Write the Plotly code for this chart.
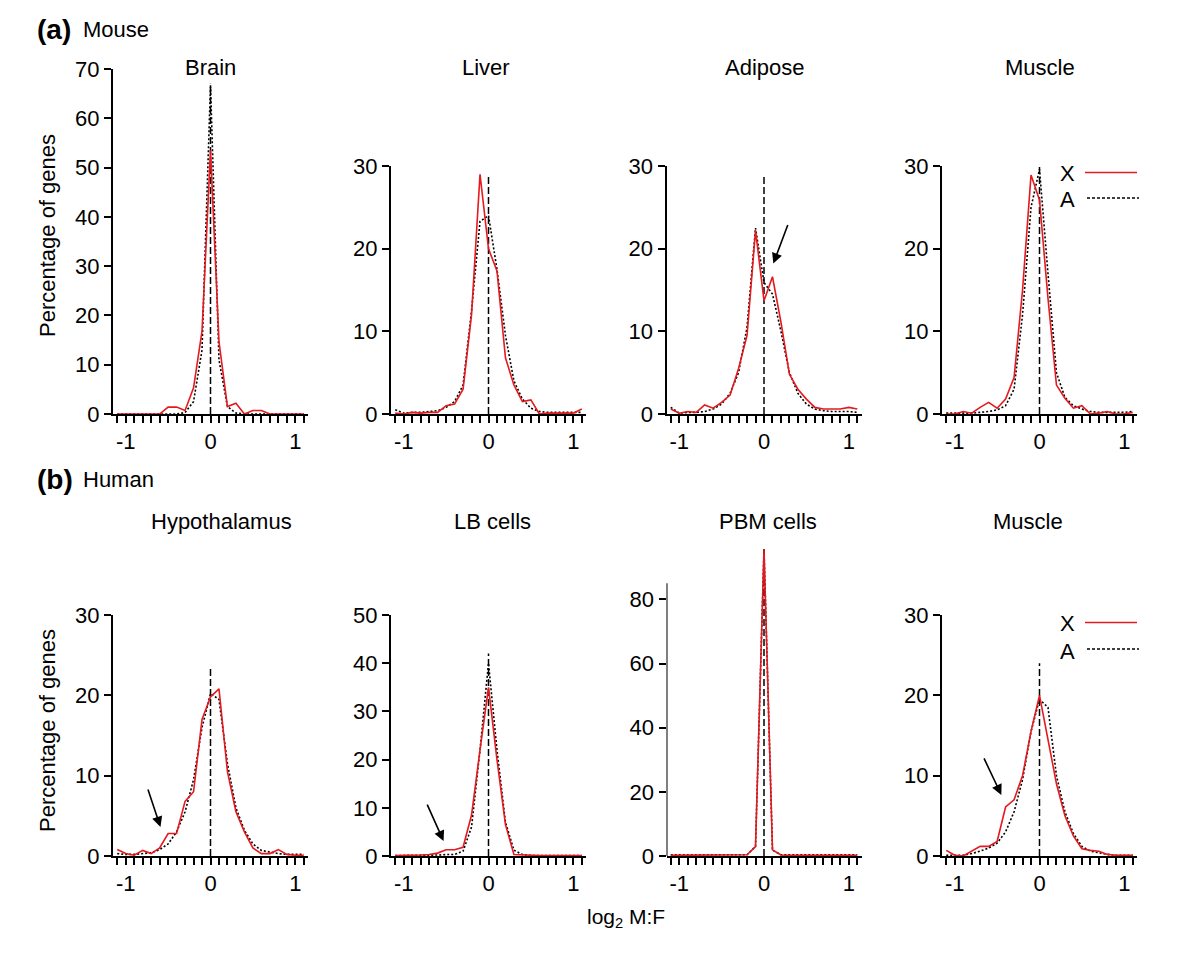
import plotly.graph_objects as go

# ---------------- data ----------------
x_vals = [-1.1, -1.0, -0.9, -0.8, -0.7, -0.6, -0.5, -0.4, -0.3, -0.2, -0.1, 0.0,
          0.1, 0.2, 0.3, 0.4, 0.5, 0.6, 0.7, 0.8, 0.9, 1.0, 1.1]
x_tick_text = ["", "-1", "", "", "", "", "", "", "", "", "", "0",
               "", "", "", "", "", "", "", "", "", "1", ""]

panel_titles = ["Brain", "Liver", "Adipose", "Muscle",
                "Hypothalamus", "LB cells", "PBM cells", "Muscle"]

# Mouse
brain_X = [0, 0, 0, 0, 0, 0, 1.4, 1.4, 0.7, 5.3, 16.8, 53.5, 14.7, 1.5, 2.2, 0, 0.7, 0.7, 0, 0, 0, 0, 0]
brain_A = [0, 0, 0, 0, 0, 0, 0, 0, 0.3, 2.5, 13.0, 66.8, 11.0, 1.5, 0.2, 0, 0, 0, 0, 0, 0, 0, 0]
liver_X = [0.1, 0.0, 0.2, 0.1, 0.2, 0.2, 1.0, 1.2, 3.0, 12.0, 29.0, 20.0, 17.3, 6.8, 3.5, 1.5, 1.7, 0.0, 0.1, 0.1, 0.1, 0.1, 0.6]
liver_A = [0.5, 0.1, 0.2, 0.2, 0.3, 0.4, 0.8, 1.5, 3.5, 12.5, 23.3, 24.0, 17.5, 9.5, 4.0, 1.8, 0.7, 0.3, 0.2, 0.2, 0.2, 0.2, 0.2]
adipose_X = [0.6, 0.1, 0.3, 0.2, 1.1, 0.7, 1.4, 2.3, 5.5, 9.5, 22.2, 13.7, 16.6, 11.1, 4.8, 3.0, 1.8, 0.8, 0.6, 0.6, 0.6, 0.8, 0.6]
adipose_A = [0.8, 0.1, 0.2, 0.2, 0.3, 0.6, 1.2, 2.5, 5.0, 10.5, 22.5, 15.9, 14.5, 10.0, 5.0, 2.5, 1.2, 0.6, 0.4, 0.3, 0.3, 0.3, 0.2]
muscle_m_X = [0, 0, 0.3, 0.1, 0.8, 1.4, 0.7, 1.8, 4.4, 15.0, 28.9, 25.9, 14.0, 3.5, 1.9, 0.7, 1.0, 0, 0.1, 0.3, 0, 0, 0.2]
muscle_m_A = [0.1, 0.1, 0.1, 0.1, 0.2, 0.3, 0.5, 1.0, 3.0, 12.0, 25.0, 29.6, 17.0, 5.0, 2.0, 1.0, 0.6, 0.3, 0.2, 0.2, 0.2, 0.2, 0.3]
# Human
hypo_X = [0.8, 0.3, 0.1, 0.7, 0.3, 1.0, 2.8, 2.8, 6.8, 8.0, 17.0, 19.8, 20.8, 10.5, 5.5, 3.0, 1.0, 0.3, 0.3, 0.8, 0.2, 0.1, 0.1]
hypo_A = [0.3, 0.2, 0.2, 0.3, 0.4, 0.8, 1.5, 3.0, 5.5, 9.5, 16.0, 20.2, 19.5, 11.5, 6.0, 3.2, 1.5, 0.7, 0.5, 0.3, 0.2, 0.2, 0.2]
lb_X = [0.1, 0.1, 0.1, 0.2, 0.3, 0.6, 1.3, 1.3, 1.8, 8.5, 22.0, 35.0, 20.0, 6.5, 0.3, 0.2, 0.1, 0.1, 0.1, 0.1, 0.2, 0.1, 0.1]
lb_A = [0.1, 0.1, 0.1, 0.1, 0.1, 0.2, 0.3, 0.3, 1.0, 6.0, 22.0, 40.0, 22.0, 7.0, 1.2, 0.3, 0.1, 0.1, 0.1, 0.1, 0.1, 0.1, 0.1]
pbm_X = [0.2, 0.2, 0.2, 0.2, 0.2, 0.2, 0.2, 0.2, 0.2, 0.4, 2.9, 95.7, 1.9, 0.3, 0.2, 0.2, 0.2, 0.2, 0.2, 0.2, 0.2, 0.2, 0.2]
pbm_A = [0.4, 0.4, 0.4, 0.4, 0.4, 0.4, 0.4, 0.4, 0.4, 0.4, 3.0, 95.7, 1.8, 0.4, 0.4, 0.4, 0.4, 0.4, 0.4, 0.4, 0.4, 0.4, 0.4]
muscle_h_X = [0.7, 0.1, 0.0, 0.6, 1.2, 1.2, 1.8, 6.1, 7.0, 10.0, 15.5, 20.0, 14.5, 9.0, 5.0, 2.5, 0.9, 0.7, 0.6, 0.2, 0.1, 0.1, 0.1]
muscle_h_A = [0.1, 0.1, 0.1, 0.3, 0.6, 1.0, 1.6, 3.0, 5.5, 9.5, 15.5, 19.5, 18.5, 10.0, 5.5, 2.8, 1.2, 0.6, 0.4, 0.2, 0.1, 0.1, 0.1]

series_X = [brain_X, liver_X, adipose_X, muscle_m_X, hypo_X, lb_X, pbm_X, muscle_h_X]
series_A = [brain_A, liver_A, adipose_A, muscle_m_A, hypo_A, lb_A, pbm_A, muscle_h_A]

zero_line_top = [67, 29, 29, 30, 23.3, 42, 96, 24]
y_ranges = [[0, 70], [0, 30], [0, 30], [0, 30], [0, 30], [0, 50], [0, 97], [0, 30]]
y_tick_vals = [[0, 10, 20, 30, 40, 50, 60, 70], [0, 10, 20, 30], [0, 10, 20, 30], [0, 10, 20, 30],
               [0, 10, 20, 30], [0, 10, 20, 30, 40, 50], [0, 20, 40, 60, 80], [0, 10, 20, 30]]
pbm_axis_top = 85

# ---------------- layout geometry (pixels in the final screenshot) ----------------
W, H = 1200, 957
OFF = 8  # page body margin
col_px = [(113, 308), (391, 586), (666.5, 861.5), (942, 1137)]
row_px = [(69, 414), (166, 414), (166, 414), (166, 414),
          (615, 856), (615, 856), (544.8, 856), (615, 856)]


def fx(px):
    return (px - OFF) / W


def fy(py):
    return 1 - (py - OFF) / H


RED = "#e5191e"
FONT = "Liberation Sans, Arial, Helvetica, sans-serif"
TS = 22

fig = go.Figure()
layout = dict(width=W, height=H,
              margin=dict(l=0, r=0, t=0, b=0, pad=0, autoexpand=False),
              paper_bgcolor="white", plot_bgcolor="white", showlegend=False,
              font=dict(family=FONT, color="black", size=TS))

for i in range(8):
    n = i + 1
    xa = "x" if n == 1 else f"x{n}"
    ya = "y" if n == 1 else f"y{n}"
    c0, c1 = col_px[i % 4]
    r0, r1 = row_px[i]
    layout["xaxis" if n == 1 else f"xaxis{n}"] = dict(
        domain=[fx(c0), fx(c1)], anchor=ya, range=[-1.15, 1.15], automargin=False,
        tickmode="array", tickvals=x_vals, ticktext=x_tick_text,
        ticks="outside", ticklen=7, tickwidth=1.5, tickcolor="black",
        showline=True, linecolor="black", linewidth=2,
        showgrid=False, zeroline=False, tickfont=dict(size=TS, family=FONT))
    layout["yaxis" if n == 1 else f"yaxis{n}"] = dict(
        domain=[fy(r1), fy(r0)], anchor=xa, range=y_ranges[i], automargin=False,
        tickmode="array", tickvals=y_tick_vals[i],
        ticks="outside", ticklen=7, tickwidth=1.5, tickcolor="black",
        showline=(i != 6), linecolor="black", linewidth=2,
        showgrid=False, zeroline=False, tickfont=dict(size=TS, family=FONT))

    fig.add_trace(go.Scatter(x=[0, 0], y=[0, zero_line_top[i]], mode="lines",
                             line=dict(color="black", width=1.5, dash="7px,3px"),
                             xaxis=xa, yaxis=ya, hoverinfo="skip"))
    fig.add_trace(go.Scatter(x=x_vals, y=series_A[i], mode="lines", name="A",
                             line=dict(color="black", width=1.6, dash="2px,2px"),
                             xaxis=xa, yaxis=ya))
    fig.add_trace(go.Scatter(x=x_vals, y=series_X[i], mode="lines", name="X",
                             line=dict(color=RED, width=1.6),
                             xaxis=xa, yaxis=ya))

fig.update_layout(**layout)

shapes = []
shapes.append(dict(type="line", xref="x7", yref="y7", x0=-1.15, x1=-1.15, y0=0, y1=pbm_axis_top,
                   line=dict(color="black", width=2)))

annotations = []
title_pos = [(210, 68), (486, 68), (765, 68), (1040, 68),
             (221, 521), (492, 521), (768, 521), (1028, 521)]
for t, (px, py) in zip(panel_titles, title_pos):
    annotations.append(dict(text=t, x=fx(px), y=fy(py), xref="paper", yref="paper",
                            showarrow=False, xanchor="center", yanchor="middle",
                            font=dict(size=TS, family=FONT)))

for lab, name, py in [("(a)", "Mouse", 30), ("(b)", "Human", 479)]:
    annotations.append(dict(text=f"<b>{lab}</b>", x=fx(35), y=fy(py), xref="paper", yref="paper",
                            showarrow=False, xanchor="left", yanchor="middle",
                            font=dict(size=28, family=FONT)))
    annotations.append(dict(text=name, x=fx(81), y=fy(py), xref="paper", yref="paper",
                            showarrow=False, xanchor="left", yanchor="middle",
                            font=dict(size=TS, family=FONT)))

for py in [236, 731]:
    annotations.append(dict(text="Percentage of genes", x=fx(47), y=fy(py),
                            xref="paper", yref="paper", showarrow=False, textangle=-90,
                            xanchor="center", yanchor="middle", font=dict(size=22, family=FONT)))

annotations.append(dict(text="log<sub>2</sub> M:F", x=fx(626), y=fy(918), xref="paper", yref="paper",
                        showarrow=False, xanchor="center", yanchor="middle",
                        font=dict(size=21, family=FONT)))

for yx, ya_ in [(172.5, 198), (622.5, 649)]:
    annotations.append(dict(text="X", x=fx(1067), y=fy(yx + 1), xref="paper", yref="paper",
                            showarrow=False, xanchor="center", yanchor="middle",
                            font=dict(size=TS, family=FONT)))
    annotations.append(dict(text="A", x=fx(1067), y=fy(ya_ + 2), xref="paper", yref="paper",
                            showarrow=False, xanchor="center", yanchor="middle",
                            font=dict(size=TS, family=FONT)))
    shapes.append(dict(type="line", xref="paper", yref="paper", x0=fx(1085), x1=fx(1137),
                       y0=fy(yx), y1=fy(yx), line=dict(color=RED, width=1.6)))
    shapes.append(dict(type="line", xref="paper", yref="paper", x0=fx(1087), x1=fx(1139),
                       y0=fy(ya_), y1=fy(ya_), line=dict(color="black", width=1.6, dash="3px,2px")))

arrows = [("x3", "y3", 0.11, 18.2, 15, -40),
          ("x5", "y5", -0.59, 3.6, -13, -39),
          ("x6", "y6", -0.53, 3.1, -17, -38),
          ("x8", "y8", -0.45, 7.6, -18, -38)]
for xr, yr, xv, yv, axp, ayp in arrows:
    annotations.append(dict(x=xv, y=yv, xref=xr, yref=yr, ax=axp, ay=ayp, text="",
                            showarrow=True, arrowhead=2, arrowsize=1.3, arrowwidth=1.6,
                            arrowcolor="black"))

fig.update_layout(shapes=shapes, annotations=annotations)
fig.write_html("out.html")
